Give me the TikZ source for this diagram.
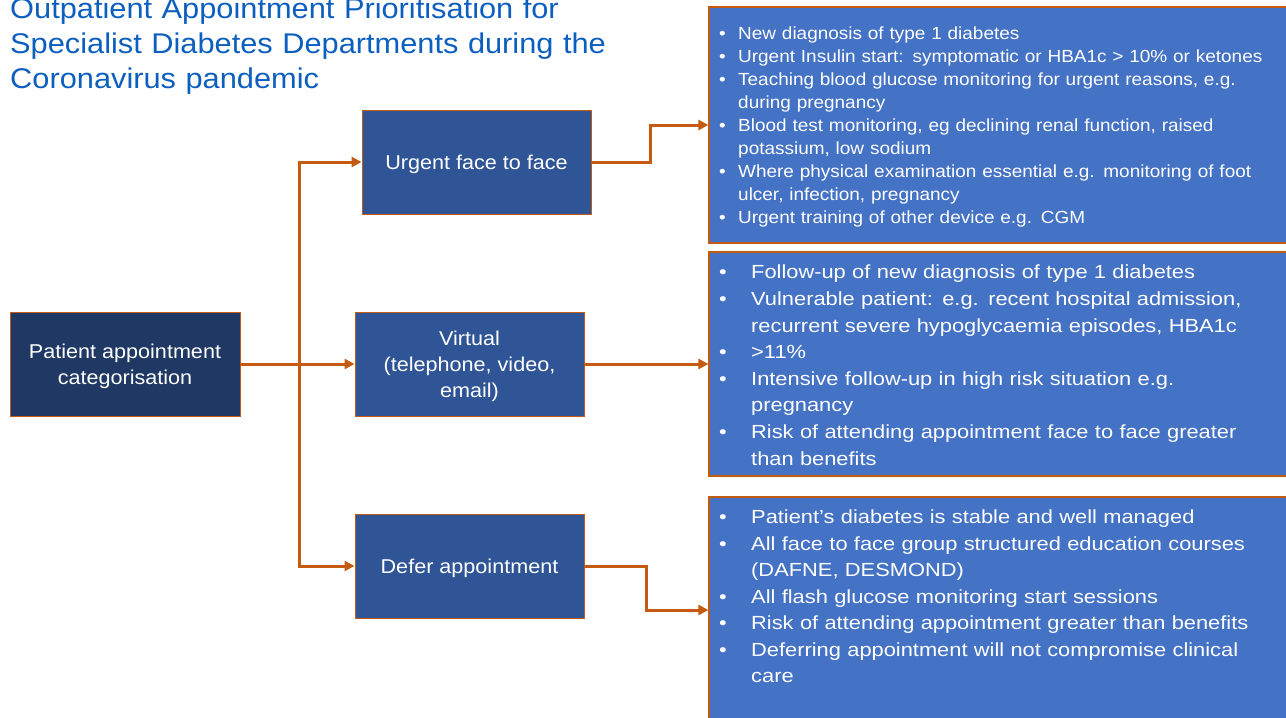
\documentclass[tikz,border=0pt]{standalone}
\usepackage{fontspec}
\setmainfont{Liberation Sans}[FakeStretch=1.08]
\newfontfamily\widefont{Liberation Sans}[FakeStretch=1.15]
\usetikzlibrary{arrows.meta}
\definecolor{navy}{RGB}{31,56,100}
\definecolor{midblue}{RGB}{47,85,151}
\definecolor{lightblue}{RGB}{68,114,196}
\definecolor{orng}{RGB}{197,90,17}
\definecolor{titleblue}{RGB}{12,95,190}
\newcommand\bitem[2]{\noindent\hangindent=#1\hangafter=1\makebox[#1][l]{\textbullet}#2\par}
\tikzset{
  nbox/.style={rectangle, draw=orng, line width=1pt, inner sep=0pt},
  ntext/.style={text=white, align=center, font=\fontsize{20}{26}\selectfont, inner sep=0pt},
  rbox/.style={rectangle, draw=orng, line width=1.2pt, fill=lightblue,
    minimum width=581pt, inner sep=0pt},
  txt/.style={anchor=north west, inner sep=0pt, text=white, text width=566pt, align=left},
  conn/.style={draw=orng, line width=3pt, -{Triangle[length=10pt,width=10pt]}}
}
\begin{document}
\begin{tikzpicture}[x=1pt,y=-1pt]
\useasboundingbox (0,0) rectangle (1286,718);
\clip (0,0) rectangle (1286,718);

\node[anchor=north west, inner sep=0pt, text width=700pt, align=left,
  font=\fontsize{28.5}{35}\selectfont, text=titleblue] (title) at (10,-2.8)
  {Outpatient Appointment Prioritisation for\\Specialist Diabetes Departments during the\\Coronavirus pandemic};

\node[nbox, fill=navy, minimum width=230pt, minimum height=104pt] (pac) at (125,364) {};
\node[nbox, fill=midblue, minimum width=229pt, minimum height=104pt] (urg) at (476.5,162) {};
\node[nbox, fill=midblue, minimum width=229pt, minimum height=104pt] (vir) at (469.5,364) {};
\node[nbox, fill=midblue, minimum width=229pt, minimum height=104pt] (def) at (469.5,566) {};
\node[ntext] (pacT) at ([yshift=-2.5pt]pac.center) {Patient appointment\\categorisation};
\node[ntext] (urgT) at ([yshift=-2.5pt]urg.center) {Urgent face to face};
\node[ntext] (virT) at ([yshift=-2pt]vir.center) {Virtual\\(telephone, video,\\email)};
\node[ntext] (defT) at ([yshift=-2.5pt]def.center) {Defer appointment};

\node[rbox, minimum height=236pt] (b1) at (999.5,125) {};
\node[rbox, minimum height=224pt] (b2) at (999.5,364) {};
\node[rbox, minimum height=226pt] (b3) at (999.5,610) {};

\node[txt, font=\fontsize{17.56}{23.1}\selectfont] (t1) at (719,26.2) {%
\bitem{19pt}{New diagnosis of type 1 diabetes}%
\bitem{19pt}{Urgent Insulin start: symptomatic or HBA1c > 10\% or ketones}%
\bitem{19pt}{Teaching blood glucose monitoring for urgent reasons, e.g.\newline during pregnancy}%
\bitem{19pt}{Blood test monitoring, eg declining renal function, raised\newline potassium, low sodium}%
\bitem{19pt}{Where physical examination essential e.g. monitoring of foot\newline ulcer, infection, pregnancy}%
\bitem{19pt}{Urgent training of other device e.g. CGM}};

\node[txt, font=\widefont\fontsize{19}{26.6}\selectfont] (t2) at (719,265) {%
\bitem{32pt}{Follow-up of new diagnosis of type 1 diabetes}%
\bitem{32pt}{Vulnerable patient: e.g. recent hospital admission,\newline recurrent severe hypoglycaemia episodes, HBA1c}%
\bitem{32pt}{>11\%}%
\bitem{32pt}{Intensive follow-up in high risk situation e.g.\newline pregnancy}%
\bitem{32pt}{Risk of attending appointment face to face greater\newline than benefits}};

\node[txt, font=\widefont\fontsize{19}{26.5}\selectfont] (t3) at (719,509.8) {%
\bitem{32pt}{Patient’s diabetes is stable and well managed}%
\bitem{32pt}{All face to face group structured education courses\newline (DAFNE, DESMOND)}%
\bitem{32pt}{All flash glucose monitoring start sessions}%
\bitem{32pt}{Risk of attending appointment greater than benefits}%
\bitem{32pt}{Deferring appointment will not compromise clinical\newline care}};

\coordinate (j) at (299,364);
\draw[conn] (pac.east) -- (vir.west);
\draw[conn] (j) |- (urg.west);
\draw[conn] (j) |- (def.west);
\draw[conn] (urg.east) -- ++(59,0) |- (b1.west);
\draw[conn] (vir.east) -- (b2.west);
\draw[conn] (def.east) -- ++(62,0) |- (b3.west);
\end{tikzpicture}
\end{document}
